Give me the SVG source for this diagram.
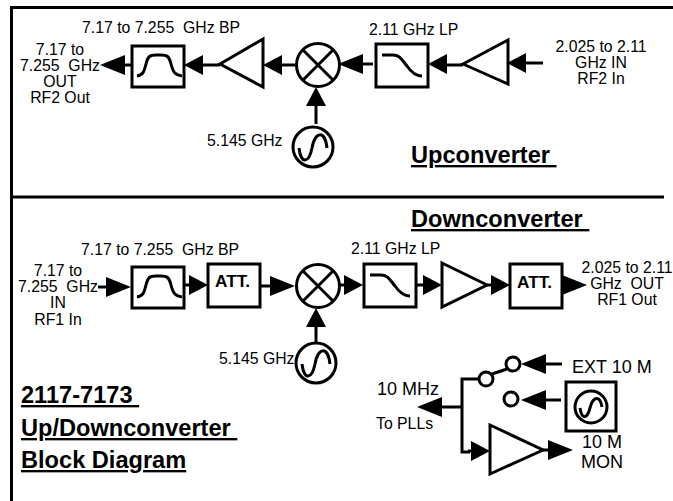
<svg xmlns="http://www.w3.org/2000/svg" width="673" height="501" viewBox="0 0 673 501">
<style>
text{font-family:"Liberation Sans",Arial,sans-serif;font-size:15.8px;fill:#000;white-space:pre}
.m{text-anchor:middle}
.att{font-weight:bold;font-size:17.2px}
.t{font-weight:bold;font-size:23.6px;text-decoration:underline}
.b{font-size:18px}
.box{fill:#fff;stroke:#000;stroke-width:3}
.s{fill:none;stroke:#000;stroke-width:3}
.c{fill:none;stroke:#000;stroke-width:3}
.a{marker-end:url(#a)}
.l{marker-end:url(#l)}
</style>
<defs>
<marker id="a" markerUnits="userSpaceOnUse" viewBox="0 0 19 20" refX="9" refY="10" markerWidth="19" markerHeight="20" orient="auto"><path d="M0,0L19,10L0,20Z"/></marker>
<marker id="l" markerUnits="userSpaceOnUse" viewBox="0 0 25 20" refX="15" refY="10" markerWidth="25" markerHeight="20" orient="auto"><path d="M0,0L25,10L0,20Z"/></marker>
<g id="bp"><rect class="box" width="52" height="41"/><path class="s" d="M5,30C11,29 12,26 14,18C16,10 18,9 24,9H29C35,9 37,10 39,18C41,26 43,29 50,30"/></g>
<g id="lp"><rect class="box" width="52" height="43"/><path class="s" d="M6,11H17C24,11 26,16 31,22C35,28 39,32 46,32"/></g>
<g id="mix"><circle class="s" r="21.500"/><path class="s" d="M-15,-15L15,15M-15,15L15,-15"/></g>
<g id="osc"><circle class="s" r="20"/><path class="s" d="M-14,1C-12,18 -4,16 -1,1C2,-16 12,-17 14,1"/></g>
</defs>

<g id="frame"><path class="s" d="M11.500,501V7.500H673"/><line class="s" x1="11" y1="197" x2="664" y2="197"/></g>

<g id="connectors">
<line class="c l" x1="132" y1="65" x2="110" y2="65"/>
<line class="c a" x1="220" y1="65" x2="194" y2="65"/>
<line class="c a" x1="296" y1="65" x2="273" y2="65"/>
<line class="c a" x1="316" y1="124" x2="316" y2="97"/>
<line class="c l" x1="373" y1="64" x2="348" y2="64"/>
<line class="c" x1="463" y1="65" x2="447" y2="65"/>
<line class="c a" x1="445" y1="64" x2="438" y2="64"/>
<line class="c a" x1="543" y1="63" x2="517" y2="63"/>
<line class="c l" x1="98" y1="287" x2="121" y2="287"/>
<line class="c a" x1="184" y1="285" x2="198" y2="285"/>
<line class="c l" x1="260" y1="286" x2="285" y2="286"/>
<line class="c a" x1="316" y1="343" x2="316" y2="318"/>
<line class="c a" x1="339" y1="285" x2="353" y2="285"/>
<line class="c a" x1="416" y1="285" x2="432" y2="285"/>
<line class="c a" x1="487" y1="285" x2="500" y2="285"/>
<line class="c l" x1="562" y1="285" x2="577" y2="285"/>
<path class="c" d="M479,379H462V452H470"/>
<line class="c l" x1="462" y1="407" x2="427" y2="407"/>
<line class="c a" x1="468" y1="451" x2="480" y2="451"/>
<line class="c" x1="492" y1="374" x2="507" y2="369"/>
<line class="c l" x1="562" y1="364" x2="531" y2="364"/>
<line class="c l" x1="561" y1="400" x2="531" y2="400"/>
<line class="c l" x1="543" y1="450" x2="563" y2="450"/>
</g>

<g id="up-bp"><use href="#bp" x="132" y="46"/></g>
<g id="up-amp1"><path class="s" d="M220,64L263,39V87Z"/></g>
<g id="up-mixer"><use href="#mix" x="318" y="65"/></g>
<g id="up-lo"><use href="#osc" x="313" y="147"/></g>
<g id="up-lp"><use href="#lp" x="376" y="44"/></g>
<g id="up-amp2"><path class="s" d="M463,64L508,40V84Z"/></g>

<g id="dn-bp"><use href="#bp" x="132" y="267"/></g>
<g id="dn-att1"><rect class="box" x="208" y="264" width="52" height="43"/><text class="att" x="215" y="287">ATT.</text></g>
<g id="dn-mixer"><use href="#mix" x="318" y="286"/></g>
<g id="dn-lo"><use href="#osc" x="316" y="363"/></g>
<g id="dn-lp"><use href="#lp" x="364" y="264"/></g>
<g id="dn-amp"><path class="s" d="M442,263L487,285L442,307Z"/></g>
<g id="dn-att2"><rect class="box" x="510" y="264" width="52" height="44"/><text class="att" x="517" y="288">ATT.</text></g>

<g id="sw1"><circle class="box" cx="486" cy="379" r="7"/></g>
<g id="sw2"><circle class="box" cx="513" cy="364" r="7"/></g>
<g id="sw3"><circle class="box" cx="511" cy="399" r="7"/></g>
<g id="ref-osc"><rect class="box" x="566" y="382" width="50" height="49"/><circle class="s" cx="591" cy="407" r="16"/><path class="s" d="M580,408C582,420 587,419 590,408C593,396 600,395 602,407"/></g>
<g id="mon-amp"><path class="s" d="M490,425L543,450L490,474Z"/></g>

<g id="labels">
<text x="82" y="33">7.17 to 7.255  GHz BP</text>
<text class="m" x="60" y="55">7.17 to</text>
<text class="m" x="60" y="71">7.255  GHz</text>
<text class="m" x="60" y="87">OUT</text>
<text class="m" x="60" y="103">RF2 Out</text>
<text x="207" y="146">5.145 GHz</text>
<text x="369" y="35">2.11 GHz LP</text>
<text class="m" x="601" y="52">2.025 to 2.11</text>
<text class="m" x="601" y="68">GHz IN</text>
<text class="m" x="601" y="84">RF2 In</text>
<text class="t" x="411" y="163">Upconverter </text>
<text class="t" x="411" y="227">Downconverter </text>
<text x="81" y="255">7.17 to 7.255  GHz BP</text>
<text class="m" x="58" y="276">7.17 to</text>
<text class="m" x="58" y="292">7.255  GHz</text>
<text class="m" x="58" y="308">IN</text>
<text class="m" x="58" y="325">RF1 In</text>
<text x="219" y="364">5.145 GHz</text>
<text x="351" y="254">2.11 GHz LP</text>
<text class="m" x="627" y="273">2.025 to 2.11</text>
<text class="m" x="627" y="289">GHz  OUT</text>
<text class="m" x="627" y="305">RF1 Out</text>
<text class="b" x="572" y="373">EXT 10 M</text>
<text class="b" x="377" y="395">10 MHz</text>
<text x="376" y="429">To PLLs</text>
<text class="b m" x="602" y="448">10 M</text>
<text class="b m" x="602" y="468">MON</text>
<text class="t" x="21" y="403">2117-7173 </text>
<text class="t" x="21" y="436">Up/Downconverter </text>
<text class="t" x="21" y="468">Block Diagram</text>
</g>
</svg>
